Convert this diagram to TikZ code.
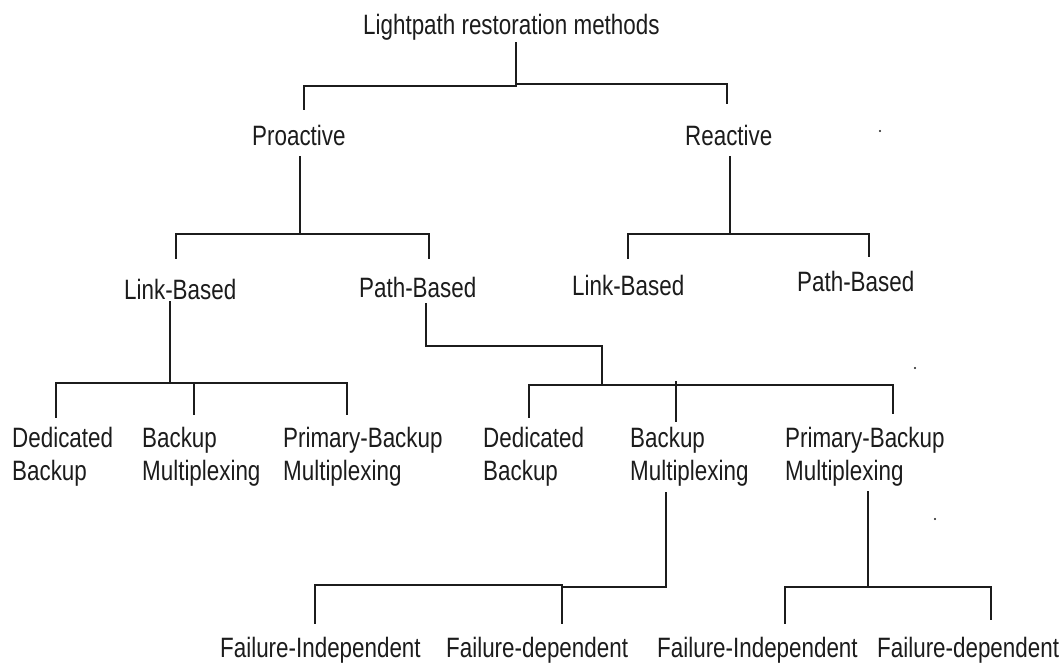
\documentclass[tikz,border=0pt]{standalone}
\usepackage{fontspec}
\setmainfont{Liberation Sans}[FakeStretch=0.8]
\begin{document}
\begin{tikzpicture}[x=1pt,y=-1pt,
  label/.style={inner sep=0pt,anchor=base west,text=ink,font=\fontsize{28}{33}\selectfont},
  wire/.style={draw=ink,line width=1.8pt,line cap=rect},
  speck/.style={fill=ink}]
\definecolor{ink}{HTML}{1C1C1C}
\useasboundingbox[fill=white] (0,0) rectangle (1062,663);

% ---- labels -------------------------------------------------------
\newcommand{\twolines}[2]{\begin{tabular}[t]{@{}l@{}}#1\\#2\end{tabular}}
\node[label] (root)  at (363,35)  {Lightpath restoration methods};
\node[label] (pro)   at (252,146) {Proactive};
\node[label] (rea)   at (685,146) {Reactive};
\node[label] (plink) at (124,299) {Link-Based};
\node[label] (ppath) at (359,297) {Path-Based};
\node[label] (rlink) at (572,295) {Link-Based};
\node[label] (rpath) at (797,291) {Path-Based};
\node[label] (ld)    at (12,447)  {\twolines{Dedicated}{Backup}};
\node[label] (lb)    at (142,447) {\twolines{Backup}{Multiplexing}};
\node[label] (lp)    at (283,447) {\twolines{Primary-Backup}{Multiplexing}};
\node[label] (pd)    at (483,447) {\twolines{Dedicated}{Backup}};
\node[label] (pb)    at (630,447) {\twolines{Backup}{Multiplexing}};
\node[label] (pp)    at (785,447) {\twolines{Primary-Backup}{Multiplexing}};
\node[label] (bfi)   at (220,657) {Failure-Independent};
\node[label] (bfd)   at (446,657) {Failure-dependent};
\node[label] (pfi)   at (657,657) {Failure-Independent};
\node[label] (pfd)   at (877,657) {Failure-dependent};

% ---- junction points ------------------------------------------------
\coordinate (r0) at (516,43);  \coordinate (r1) at (516,86);
\coordinate (r2) at (304,86);  \coordinate (r3) at (304,109);
\coordinate (r4) at (516,84);  \coordinate (r5) at (727,84);
\coordinate (r6) at (727,103);

\coordinate (a0) at (300,157); \coordinate (a1) at (300,234);
\coordinate (a2) at (176,234); \coordinate (a3) at (176,258);
\coordinate (a4) at (429,234); \coordinate (a5) at (429,258);

\coordinate (b0) at (730,157); \coordinate (b1) at (730,234);
\coordinate (b2) at (628,234); \coordinate (b3) at (628,258);
\coordinate (b4) at (869,234); \coordinate (b5) at (869,256);

\coordinate (c0) at (170,302); \coordinate (c1) at (170,383);
\coordinate (c2) at (56,383);  \coordinate (c3) at (56,417);
\coordinate (c4) at (347,383); \coordinate (c5) at (347,414);
\coordinate (c6) at (194,383); \coordinate (c7) at (194,414);

\coordinate (d0) at (426,304); \coordinate (d1) at (426,346);
\coordinate (d2) at (602,346); \coordinate (d3) at (602,385);
\coordinate (d4) at (529,385); \coordinate (d5) at (529,417);
\coordinate (d6) at (893,385); \coordinate (d7) at (893,413);
\coordinate (d8) at (676,382); \coordinate (d9) at (676,421);

\coordinate (e0) at (666,493); \coordinate (e1) at (666,587);
\coordinate (e2) at (562,587); \coordinate (e3) at (562,585);
\coordinate (e4) at (315,585); \coordinate (e5) at (315,623);
\coordinate (e6) at (562,623);

\coordinate (f0) at (868,492); \coordinate (f1) at (868,587);
\coordinate (f2) at (785,587); \coordinate (f3) at (785,623);
\coordinate (f4) at (991,587); \coordinate (f5) at (991,619);

% ---- connectors -----------------------------------------------------
\draw[wire] (r0) -- (r1) -- (r2) -- (r3);
\draw[wire] (r4) -- (r5) -- (r6);

\draw[wire] (a0) -- (a1);
\draw[wire] (a3) -- (a2) -- (a4) -- (a5);
\draw[wire] (b0) -- (b1);
\draw[wire] (b3) -- (b2) -- (b4) -- (b5);

\draw[wire] (c0) -- (c1);
\draw[wire] (c3) -- (c2) -- (c4) -- (c5);
\draw[wire] (c6) -- (c7);

\draw[wire] (d0) -- (d1) -- (d2) -- (d3);
\draw[wire] (d5) -- (d4) -- (d6) -- (d7);
\draw[wire] (d8) -- (d9);

\draw[wire] (e0) -- (e1) -- (e2);
\draw[wire] (e6) -- (e3) -- (e4) -- (e5);

\draw[wire] (f0) -- (f1);
\draw[wire] (f3) -- (f2) -- (f4) -- (f5);

% ---- small specks -----------------------------------------------------
\fill[speck] (880,131) circle (1.1);
\fill[speck] (915,368) circle (1.1);
\fill[speck] (935,519) circle (1.1);
\end{tikzpicture}
\end{document}
